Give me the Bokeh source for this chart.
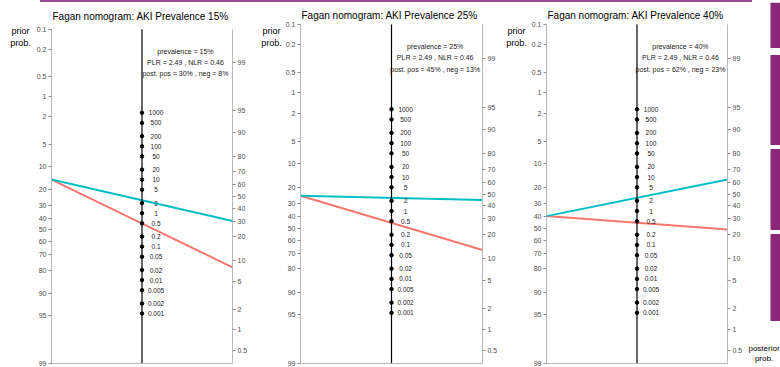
import math
from bokeh.plotting import figure
from bokeh.models import Range1d, LinearAxis, FixedTicker, Label, ColumnDataSource, Div
from bokeh.layouts import row, column
from bokeh.core.properties import value
from bokeh.embed import file_html
from bokeh.resources import INLINE

# ---------------- data ----------------
titles = ["Fagan nomogram: AKI Prevalence 15%",
          "Fagan nomogram: AKI Prevalence 25%",
          "Fagan nomogram: AKI Prevalence 40%"]
prevalence = [15, 25, 40]          # prior probability, %
plr = 2.49
nlr = 0.46
post_pos = [30, 45, 62]            # posterior prob. after positive test, %
post_neg = [8, 13, 23]             # posterior prob. after negative test, %

prob_ticks = [0.1, 0.2, 0.5, 1, 2, 5, 10, 20, 30, 40, 50, 60, 70, 80, 90, 95, 99]
prob_labels = ["0.1", "0.2", "0.5", "1", "2", "5", "10", "20", "30", "40",
               "50", "60", "70", "80", "90", "95", "99"]
lr_ticks = [0.001, 0.002, 0.005, 0.01, 0.02, 0.05, 0.1, 0.2, 0.5, 1,
            2, 5, 10, 20, 50, 100, 200, 500, 1000]
lr_labels = ["0.001", "0.002", "0.005", "0.01", "0.02", "0.05", "0.1", "0.2", "0.5", "1",
             "2", "5", "10", "20", "50", "100", "200", "500", "1000"]

# page decoration (side strip of the surrounding page, in page pixels)
strip_top = [2, 55, 150, 236]
strip_bottom = [48, 146, 232, 324]

POS_COLOR = "#00BFC4"
NEG_COLOR = "#F8766D"
PURPLE = "#8B2778"
PURPLE_LINE = "#9B4A94"
FONT = "Liberation Sans"
AX_LINE = "#B8B8B8"
TICK_TXT = "#4D4D4D"


def logit(pct):
    p = pct / 100.0
    return math.log(p / (1.0 - p))


y_top = -logit(prob_ticks[0])
y_bot = -logit(prob_ticks[-1])
shift = (y_top + y_bot) / 2.0

# ---------------- layout geometry (page px) ----------------
TOP_BAR = 2
FIG_H = 367 - TOP_BAR
# panels: figure left edge / width and frame edges
P_x0 = [33, 282, 528]
P_w = [217, 218, 217]
L = [49, 297, 543]
R = [235, 482, 730]
T = [29, 24, 24]
B = [366, 363, 363]
title_y = [16.5, 15, 15]
# gutters holding the "prior prob." titles
G_x0 = [0, 250, 500]
G_w = [33, 32, 28]
G_cx = [20, 271, 516]
prior_y = [31, 42.5]
# right strip
S_x0, S_w = 745, 35


def style_axis(ax):
    ax.axis_line_color = AX_LINE
    ax.axis_line_width = 1
    ax.major_tick_line_color = "#8C8C8C"
    ax.major_tick_out = 3
    ax.major_tick_in = 0
    ax.minor_tick_line_color = None
    ax.major_label_text_font = FONT
    ax.major_label_text_font_size = "7px"
    ax.major_label_text_color = TICK_TXT
    ax.major_label_standoff = 2
    ax.bounds = (y_bot - 1e-9, y_top + 1e-9)


def page_figure(x0, w):
    f = figure(width=w, height=FIG_H,
               x_range=Range1d(x0, x0 + w), y_range=Range1d(367, TOP_BAR),
               x_axis_location=None, y_axis_location=None,
               output_backend="svg", toolbar_location=None, min_border=0)
    f.outline_line_color = None
    f.grid.visible = False
    f.background_fill_color = "white"
    f.border_fill_color = "white"
    return f


children = []
for i in range(3):
    # gutter with axis title
    g = page_figure(G_x0[i], G_w[i])
    g.text(x=[G_cx[i], G_cx[i]], y=prior_y, text=["prior", "prob."],
           text_font=value(FONT), text_font_size=value("9px"),
           text_align="center", text_baseline="middle", text_color="black")
    children.append(g)

    scale = (B[i] - T[i]) / (y_top - y_bot)          # px per logit unit
    y_ext = y_top + (T[i] - TOP_BAR) / scale           # frame reaches up to the title
    p = figure(width=P_w[i], height=FIG_H,
               x_range=Range1d(-1, 1), y_range=Range1d(y_bot, y_ext),
               x_axis_location=None, y_axis_location=None,
               output_backend="svg", toolbar_location=None,
               min_border_left=L[i] - P_x0[i],
               min_border_right=P_x0[i] + P_w[i] - R[i],
               min_border_top=0,
               min_border_bottom=367 - B[i])
    p.outline_line_color = None
    p.background_fill_color = "white"
    p.border_fill_color = "white"
    p.grid.visible = False

    # left axis: prior probability
    left_ticks = [-logit(t) for t in prob_ticks]
    lax = LinearAxis(ticker=FixedTicker(ticks=left_ticks),
                     major_label_overrides={t: lab for t, lab in zip(left_ticks, prob_labels)})
    style_axis(lax)
    p.add_layout(lax, "left")

    # right axis: posterior probability
    rt, rl = [], []
    for t, lab in zip(prob_ticks, prob_labels):
        v = logit(t) + shift
        if y_bot <= v <= y_top:
            rt.append(v)
            rl.append(lab)
    rax = LinearAxis(ticker=FixedTicker(ticks=rt),
                     major_label_overrides={t: lab for t, lab in zip(rt, rl)})
    style_axis(rax)
    p.add_layout(rax, "right")

    # bottom axis line only
    bax = LinearAxis(ticker=FixedTicker(ticks=[]))
    bax.axis_line_color = AX_LINE
    bax.major_tick_out = 0
    bax.major_tick_in = 0
    bax.minor_tick_line_color = None
    bax.major_label_standoff = 0
    p.add_layout(bax, "below")

    # nomogram lines
    y_prior = -logit(prevalence[i])
    p.line(x=[-1, 1], y=[y_prior, logit(post_neg[i]) + shift],
           line_color=NEG_COLOR, line_width=2)
    p.line(x=[-1, 1], y=[y_prior, logit(post_pos[i]) + shift],
           line_color=POS_COLOR, line_width=2)

    # likelihood ratio scale
    p.segment(x0=[0], y0=[y_bot], x1=[0], y1=[y_top], line_color="black", line_width=1.2)
    lr_y = [math.log(v) / 2.0 + shift / 2.0 for v in lr_ticks]
    src = ColumnDataSource(dict(x=[0.0] * len(lr_ticks), xt=[0.155] * len(lr_ticks),
                                y=lr_y, text=lr_labels))
    p.scatter(x="x", y="y", source=src, size=3.5, color="black")
    p.text(x="xt", y="y", text="text", source=src,
           text_font=value(FONT), text_font_size=value("6.5px"),
           text_align="center", text_baseline="middle", text_color="#1A1A1A")

    # detail box
    detail = ["prevalence = %d%%" % prevalence[i],
              "PLR = %.2f , NLR = %.2f" % (plr, nlr),
              "post. pos = %d%% , neg = %d%%" % (post_pos[i], post_neg[i])]
    for k, txt in enumerate(detail):
        p.add_layout(Label(x=0.48, y=y_top - (0.76 + 0.375 * k), text=txt,
                           text_font=FONT, text_font_size="7px",
                           text_align="center", text_baseline="middle",
                           text_color="#1A1A1A"))

    # panel title
    p.add_layout(Label(x=-1 + 2.0 / (R[i] - L[i]),
                       y=y_top + (T[i] - title_y[i]) / scale,
                       text=titles[i], text_font=FONT, text_font_size="10px",
                       text_align="left", text_baseline="middle", text_color="black"))
    children.append(p)

# right strip: posterior axis title + page decoration
s = page_figure(S_x0, S_w)
s.quad(left=[770] * len(strip_top), right=[780] * len(strip_top),
       top=strip_top, bottom=strip_bottom, fill_color=PURPLE, line_color=None)
s.text(x=[763.5, 763.5], y=[352, 362], text=["posterior", "prob."],
       text_font=value(FONT), text_font_size=value("8px"),
       text_align="center", text_baseline="middle", text_color="black")
children.append(s)

bar = Div(text="", width=712, height=TOP_BAR, margin=(0, 0, 0, 40),
          styles={"background-color": PURPLE_LINE})

layout = column(bar, row(*children, spacing=0), spacing=0)
open("out.html", "w").write(file_html(layout, INLINE))
